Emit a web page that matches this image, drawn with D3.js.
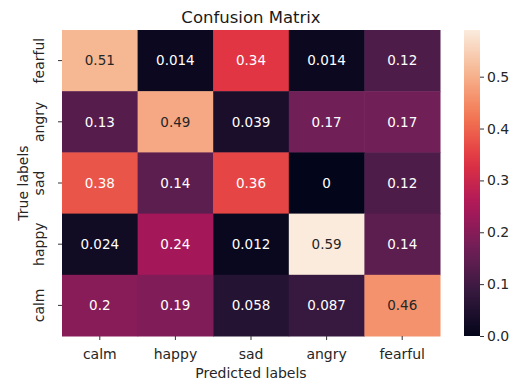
<!DOCTYPE html>
<html>
<head>
<meta charset="utf-8">
<script src="https://cdn.jsdelivr.net/npm/d3@7"></script>
<style>
  body { margin: 0; background: #fff; }
  svg { display: block; font-family: "DejaVu Sans", sans-serif; }
</style>
</head>
<body>
<svg id="Chartsvg" width="515" height="386"></svg>
<script>
// rows top -> bottom, columns left -> right
var trueLabels = ["fearful", "angry", "sad", "happy", "calm"];
var predLabels = ["calm", "happy", "sad", "angry", "fearful"];
var rowFearful = [0.51, 0.014, 0.34, 0.014, 0.12];
var rowAngry   = [0.13, 0.49, 0.039, 0.17, 0.17];
var rowSad     = [0.38, 0.14, 0.36, 0, 0.12];
var rowHappy   = [0.024, 0.24, 0.012, 0.59, 0.14];
var rowCalm    = [0.2, 0.19, 0.058, 0.087, 0.46];
var matrix = [rowFearful, rowAngry, rowSad, rowHappy, rowCalm];
var cbTicks = [0.0, 0.1, 0.2, 0.3, 0.4, 0.5];

var svg = d3.select("#Chartsvg"),
    hmLeft = 62, hmRight = 440, hmTop = 30, hmBottom = 336;

var vmax = d3.max(matrix, function(r) { return d3.max(r); });

// seaborn "rocket" approximated with a few stops
var rocketStops = ["#03051A", "#35193E", "#701F57", "#AD1759", "#E13342", "#F37651", "#F6B48F", "#FAEBDD"];
var rocket = d3.piecewise(d3.interpolateRgb, rocketStops);
var color = function(v) { return rocket(v / vmax); };

var x = d3.scaleBand().domain(predLabels).range([hmLeft, hmRight]);
var y = d3.scaleBand().domain(trueLabels).range([hmTop, hmBottom]);

var cells = [];
matrix.forEach(function(row, i) {
    row.forEach(function(v, j) {
        cells.push({r: trueLabels[i], c: predLabels[j], v: v});
    });
});

function lum(c) {
    var rgb = d3.rgb(c);
    var f = function(u) { u /= 255; return u <= 0.03928 ? u / 12.92 : Math.pow((u + 0.055) / 1.055, 2.4); };
    return 0.2126 * f(rgb.r) + 0.7152 * f(rgb.g) + 0.0722 * f(rgb.b);
}

var g = svg.append("g");
g.selectAll("rect")
    .data(cells)
    .enter().append("rect")
    .attr("x", function(d) { return x(d.c); })
    .attr("y", function(d) { return y(d.r); })
    .attr("width", x.bandwidth() + 0.5)
    .attr("height", y.bandwidth() + 0.5)
    .attr("fill", function(d) { return color(d.v); });

g.selectAll("text")
    .data(cells)
    .enter().append("text")
    .attr("x", function(d) { return x(d.c) + x.bandwidth() / 2; })
    .attr("y", function(d) { return y(d.r) + y.bandwidth() / 2; })
    .attr("dy", "0.36em")
    .attr("text-anchor", "middle")
    .attr("font-size", 13.5)
    .attr("fill", function(d) { return lum(color(d.v)) > 0.408 ? "#262626" : "#ffffff"; })
    .text(function(d) { return String(d.v); });

// x axis
var xAxis = svg.append("g")
    .attr("transform", "translate(0," + hmBottom + ")")
    .call(d3.axisBottom(x).tickSize(4).tickPadding(9));
xAxis.select(".domain").remove();
xAxis.selectAll("line").attr("stroke", "#333");
xAxis.selectAll("text").attr("font-size", 14).attr("fill", "#262626")
    .attr("font-family", "DejaVu Sans");

// y axis, labels rotated
var yAxis = svg.append("g")
    .attr("transform", "translate(" + hmLeft + ",0)")
    .call(d3.axisLeft(y).tickSize(4));
yAxis.select(".domain").remove();
yAxis.selectAll("line").attr("stroke", "#333");
yAxis.selectAll("text").remove();
yAxis.selectAll(".tick").append("text")
    .attr("transform", "translate(-18,0) rotate(-90)")
    .attr("text-anchor", "middle")
    .attr("font-size", 14)
    .attr("fill", "#262626")
    .attr("font-family", "DejaVu Sans")
    .text(function(d) { return d; });

// titles
svg.append("text")
    .attr("x", (hmLeft + hmRight) / 2).attr("y", 22.5)
    .attr("text-anchor", "middle")
    .attr("font-size", 16.5)
    .attr("fill", "#1a1a1a")
    .text("Confusion Matrix");
svg.append("text")
    .attr("x", (hmLeft + hmRight) / 2).attr("y", 378)
    .attr("text-anchor", "middle")
    .attr("font-size", 14)
    .attr("fill", "#262626")
    .text("Predicted labels");
svg.append("text")
    .attr("transform", "translate(28," + (hmTop + hmBottom) / 2 + ") rotate(-90)")
    .attr("text-anchor", "middle")
    .attr("font-size", 14)
    .attr("fill", "#262626")
    .text("True labels");

// colorbar
var cbX = 464, cbW = 16;
var cb = d3.scaleLinear().domain([0, vmax]).range([hmBottom, hmTop]);
var grad = svg.append("defs").append("linearGradient")
    .attr("id", "cbgrad")
    .attr("x1", 0).attr("y1", 1).attr("x2", 0).attr("y2", 0);
grad.selectAll("stop")
    .data(d3.range(0, 1.0001, 0.05))
    .enter().append("stop")
    .attr("offset", function(d) { return (d * 100) + "%"; })
    .attr("stop-color", function(d) { return rocket(d); });
svg.append("rect")
    .attr("x", cbX).attr("y", hmTop)
    .attr("width", cbW).attr("height", hmBottom - hmTop)
    .attr("fill", "url(#cbgrad)");
var cbAxis = svg.append("g")
    .attr("transform", "translate(" + (cbX + cbW) + ",0)")
    .call(d3.axisRight(cb).tickValues(cbTicks).tickFormat(d3.format(".1f")).tickSize(4).tickPadding(3));
cbAxis.select(".domain").remove();
cbAxis.selectAll("line").attr("stroke", "#333");
cbAxis.selectAll("text").attr("font-size", 14).attr("fill", "#262626")
    .attr("font-family", "DejaVu Sans");
</script>
</body>
</html>
